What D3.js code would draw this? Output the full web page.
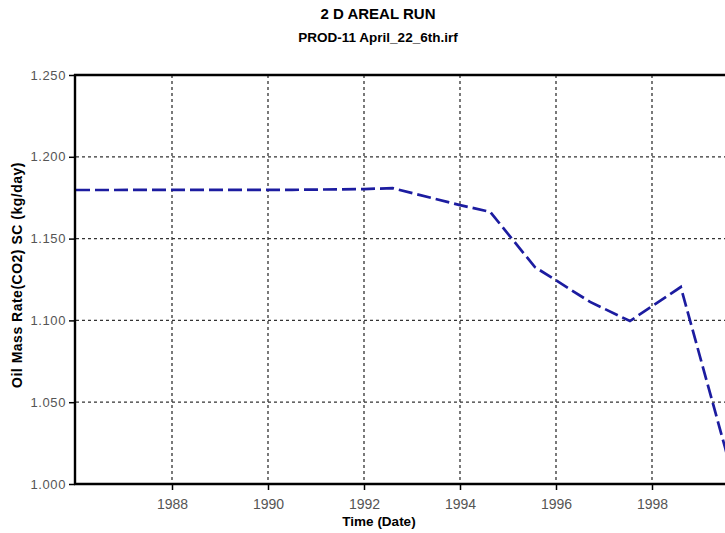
<!DOCTYPE html>
<html>
<head>
<meta charset="utf-8">
<script src="https://cdn.jsdelivr.net/npm/d3@7"></script>
<style>
  body { margin: 0; background: #fff; }
  svg { display: block; }
  .tick text { font-family: "Liberation Sans", Arial, sans-serif; fill: #555; }
</style>
</head>
<body>
<div id="chart"></div>
<script>
// series (decimal year, kg/day)
var years  = [1986.0, 1990.5, 1992.0, 1992.6, 1994.0, 1994.63, 1995.56, 1996.02, 1996.71, 1997.54, 1998.6, 1999.52, 1999.7];
var values = [1.1797, 1.1798, 1.1803, 1.1808, 1.1705, 1.1663, 1.1326, 1.1241, 1.1113, 1.0996, 1.1204, 1.0225, 1.002];
var xTicks = [1988, 1990, 1992, 1994, 1996, 1998];
var yTicks = [1.000, 1.050, 1.100, 1.150, 1.200, 1.250];

var W = 725, H = 533;
var pLeft = 76, pTop = 75, pBottom = 484, pRight = 800;

var svg = d3.select("#chart").append("svg")
    .attr("width", W)
    .attr("height", H);

var x = d3.scaleLinear().domain([1986, 2000]).range([pLeft, pLeft + 14 * 48]);
var y = d3.scaleLinear().domain([1.0, 1.25]).range([pBottom, pTop]);

svg.append("clipPath").attr("id", "plot-clip")
    .append("rect")
    .attr("x", pLeft).attr("y", pTop)
    .attr("width", pRight - pLeft).attr("height", pBottom - pTop);

// grid
var grid = svg.append("g").attr("class", "grid");
grid.selectAll("line.v")
    .data(xTicks)
    .enter().append("line")
    .attr("class", "v")
    .attr("x1", function (d) { return x(d); })
    .attr("x2", function (d) { return x(d); })
    .attr("y1", pTop).attr("y2", pBottom)
    .attr("stroke", "#333").attr("stroke-width", 1.3)
    .attr("stroke-dasharray", "3,3");
grid.selectAll("line.h")
    .data(yTicks.filter(function (d) { return d > 1.0 && d < 1.25; }))
    .enter().append("line")
    .attr("class", "h")
    .attr("x1", pLeft).attr("x2", pRight)
    .attr("y1", function (d) { return y(d); })
    .attr("y2", function (d) { return y(d); })
    .attr("stroke", "#333").attr("stroke-width", 1.3)
    .attr("stroke-dasharray", "3,3");

// series
var pts = years.map(function (d, i) { return [d, values[i]]; });
var line = d3.line()
    .x(function (d) { return x(d[0]); })
    .y(function (d) { return y(d[1]); });

svg.append("path")
    .datum(pts)
    .attr("clip-path", "url(#plot-clip)")
    .attr("d", line)
    .attr("fill", "none")
    .attr("stroke", "#1c1ca0")
    .attr("stroke-width", 2.7)
    .attr("stroke-dasharray", "14,5");

// axes
var xAxis = svg.append("g")
    .attr("transform", "translate(0," + pBottom + ")")
    .call(d3.axisBottom(x).tickValues(xTicks).tickFormat(d3.format("d")).tickSize(6).tickSizeOuter(0).tickPadding(9));
xAxis.select(".domain").remove();
xAxis.selectAll(".tick line").attr("stroke", "#000").attr("stroke-width", 1.5);
xAxis.selectAll(".tick text").style("font-size", "14px");

var yAxis = svg.append("g")
    .attr("transform", "translate(" + (pLeft - 1) + ",0)")
    .call(d3.axisLeft(y).tickValues(yTicks).tickFormat(d3.format(".3f")).tickSize(6).tickSizeOuter(0).tickPadding(3));
yAxis.select(".domain").remove();
yAxis.selectAll(".tick line").attr("stroke", "#000").attr("stroke-width", 1.5);
yAxis.selectAll(".tick text").style("font-size", "13px").style("letter-spacing", "0.6px");

// frame lines
svg.append("line").attr("x1", pLeft - 1).attr("x2", pLeft - 1).attr("y1", pTop - 1).attr("y2", pBottom + 1)
    .attr("stroke", "#000").attr("stroke-width", 2.4);
svg.append("line").attr("x1", pLeft - 2).attr("x2", W).attr("y1", pTop).attr("y2", pTop)
    .attr("stroke", "#000").attr("stroke-width", 2.4);
svg.append("line").attr("x1", pLeft - 2).attr("x2", W).attr("y1", pBottom).attr("y2", pBottom)
    .attr("stroke", "#000").attr("stroke-width", 2.4);

// titles
svg.append("text")
    .attr("x", 378).attr("y", 19)
    .attr("text-anchor", "middle")
    .style("font-family", "Liberation Sans, Arial, sans-serif")
    .style("font-weight", "bold")
    .style("font-size", "15px")
    .text("2 D AREAL RUN");
svg.append("text")
    .attr("x", 378).attr("y", 42)
    .attr("text-anchor", "middle")
    .style("font-family", "Liberation Sans, Arial, sans-serif")
    .style("font-weight", "bold")
    .style("font-size", "13.5px")
    .text("PROD-11 April_22_6th.irf");

svg.append("text")
    .attr("x", 379).attr("y", 526)
    .attr("text-anchor", "middle")
    .style("font-family", "Liberation Sans, Arial, sans-serif")
    .style("font-weight", "bold")
    .style("font-size", "13.5px")
    .text("Time (Date)");

svg.append("text")
    .attr("transform", "translate(22,275) rotate(-90)")
    .attr("text-anchor", "middle")
    .style("font-family", "Liberation Sans, Arial, sans-serif")
    .style("font-weight", "bold")
    .style("font-size", "14px")
    .style("letter-spacing", "0.5px")
    .text("Oil Mass Rate(CO2) SC (kg/day)");
</script>
</body>
</html>
